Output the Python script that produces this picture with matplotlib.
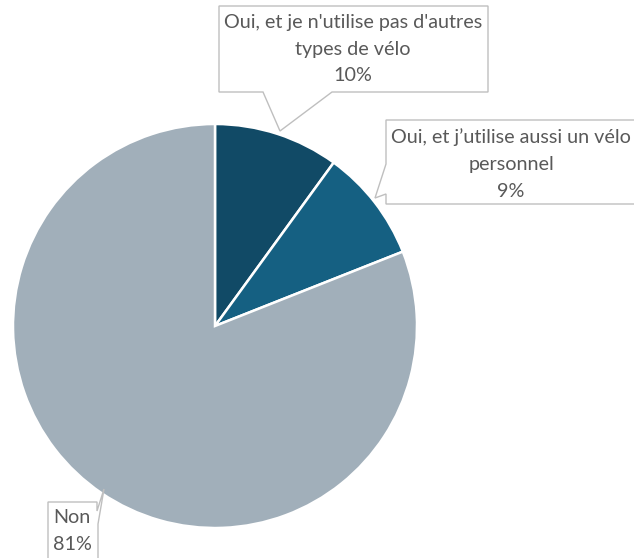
import matplotlib.pyplot as plt
from matplotlib.patches import Polygon


# ======================================
# DATA
# ======================================

labels = [
    "Oui, et je n'utilise pas d'autres\ntypes de vélo",
    "Oui, et j\u2019utilise aussi un vélo\npersonnel",
    "Non",
]
values = [10, 9, 81]
colors = ["#114a66", "#156082", "#a1afba"]


# ======================================
# FIGURE (pixel coordinates, y measured from top)
# ======================================

W, H = 634, 558
fig = plt.figure(figsize=(W / 100, H / 100), dpi=100)
ax = fig.add_axes([0, 0, 1, 1])


def px(x, y):
    return (x, H - y)


ax.pie(
    values,
    colors=colors,
    startangle=90,
    counterclock=False,
    center=px(215, 326),
    radius=202,
    wedgeprops=dict(edgecolor="white", linewidth=1.8),
    frame=True,
)
ax.set_xlim(0, W)
ax.set_ylim(0, H)
ax.set_aspect("equal")
ax.axis("off")


# ======================================
# CALLOUT LABELS
# ======================================

edge = "#bfbfbf"
txt = "#595959"
font = dict(family=["Lato", "DejaVu Sans"], fontsize=14.2, color=txt)

callouts = [
    [(219, 6), (488, 6), (488, 92), (332, 92), (280, 131),
     (263, 92), (219, 92)],
    [(386, 120), (640, 120), (640, 204), (386, 204), (386, 194),
     (375, 198), (386, 164)],
    [(48, 502), (97, 502), (97, 511), (104, 489), (98, 524),
     (98, 570), (48, 570)],
]

for pts in callouts:
    ax.add_patch(Polygon([px(x, y) for x, y in pts], closed=True,
                         facecolor="white", edgecolor=edge,
                         linewidth=1.0, zorder=5))

text_pos = [(353, 49), (511, 164), (72, 531)]

for (x, y), lab, v in zip(text_pos, labels, values):
    ax.text(*px(x, y), f"{lab}\n{v}%", ha="center", va="center",
            linespacing=1.7, zorder=6, **font)

fig.savefig("out.png", dpi=100)
